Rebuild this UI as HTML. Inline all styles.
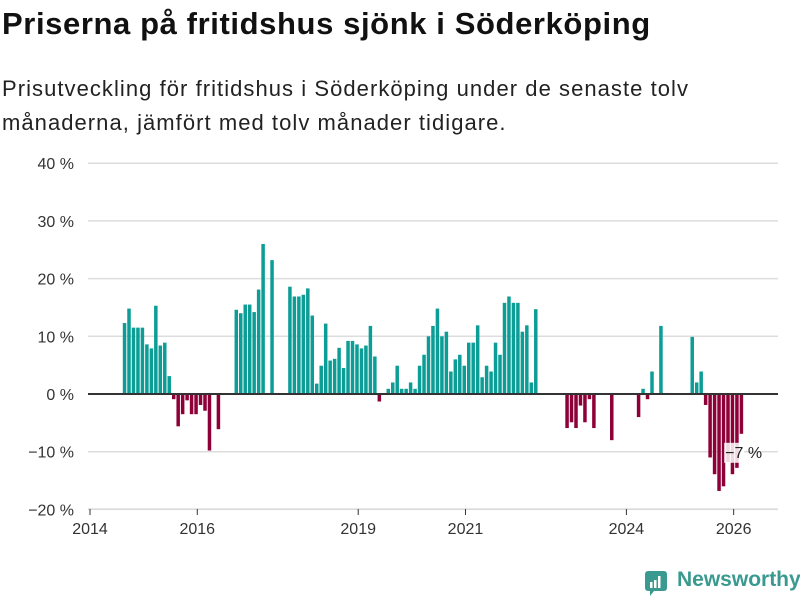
<!DOCTYPE html>
<html><head><meta charset="utf-8">
<style>
body{margin:0;background:#fff;font-family:"Liberation Sans","DejaVu Sans",sans-serif;}
#wrap{position:relative;width:800px;height:600px;overflow:hidden;}
h1{position:absolute;left:2px;top:6px;margin:0;font-size:31px;font-weight:bold;color:#111;letter-spacing:0.6px;}
#sub{position:absolute;left:2px;top:72px;margin:0;font-size:22px;line-height:34px;color:#222;letter-spacing:1.05px;}
svg{position:absolute;left:0;top:0;}
#logo{position:absolute;left:645px;top:568px;font-size:21px;font-weight:bold;color:#3a9a8f;}
</style></head><body>
<div id="wrap">
<h1>Priserna på fritidshus sjönk i Söderköping</h1>
<p id="sub">Prisutveckling för fritidshus i Söderköping under de senaste tolv<br>månaderna, jämfört med tolv månader tidigare.</p>
<svg id="chart" width="800" height="600"></svg>
<div id="logo"><svg width="24" height="26" style="position:absolute;left:0;top:3px"><rect x="0" y="0" width="22" height="20" rx="3" fill="#3a9a8f"/><path d="M5 20 L9 20 L5 25 Z" fill="#3a9a8f"/><rect x="5" y="11" width="2.5" height="6" fill="#fff"/><rect x="9" y="9" width="2.5" height="8" fill="#fff"/><rect x="13" y="5" width="2.5" height="12" fill="#fff"/></svg><span style="margin-left:32px">Newsworthy</span></div>
</div>
<script>
const values = [null,null,null,null,null,null,null,
12.3,14.8,11.5,11.5,11.5,8.6,7.9,15.3,8.4,8.9,3.1,
-0.9,-5.6,-3.5,-1.1,-3.5,-3.5,-1.9,-2.9,-9.8,null,-6.1,
null,null,null,
14.6,14.0,15.5,15.5,14.2,18.1,26.0,null,23.2,null,null,null,
18.6,16.9,16.9,17.2,18.3,13.6,1.8,4.9,12.2,5.8,6.1,8.0,4.5,9.2,9.2,8.6,7.9,8.4,11.8,6.5,-1.3,null,
0.9,2.0,4.9,0.9,0.9,2.0,0.9,4.9,6.8,10,11.8,14.8,10,10.8,3.9,6.0,6.8,4.9,8.9,8.9,11.9,2.9,4.9,3.9,8.9,6.8,15.8,16.9,15.8,15.8,10.8,11.9,2.0,14.7,
null,null,null,null,null,null,
-5.9,-4.9,-5.9,-2.0,-4.9,-0.9,-5.9,null,null,null,-8.0,
null,null,null,null,null,
-4.0,0.9,-0.9,3.9,null,11.8,null,null,null,null,null,null,
9.9,2.0,3.9,-1.9,-11,-13.9,-16.8,-16,-11.8,-13.9,-12.8,-6.9];
const yTicks = [40,30,20,10,0,-10,-20];
const yTickLabels = ["40 %","30 %","20 %","10 %","0 %","−10 %","−20 %"];
const xTickMonths = [0,24,60,84,120,144];
const xTickLabels = ["2014","2016","2019","2021","2024","2026"];
const lastLabel = "−7 %";

const NS="http://www.w3.org/2000/svg";
const svg=document.getElementById('chart');
const y0=394, pxPer=5.77, xL=90, mW=4.47;
const y=v=>y0-v*pxPer;
const x=i=>xL+i*mW;
function mk(t,a){const e=document.createElementNS(NS,t);for(const k in a)e.setAttribute(k,a[k]);svg.appendChild(e);return e;}
yTicks.forEach((v,k)=>{
  if(v!==0){const g=mk('line',{x1:88,x2:778,y1:y(v),y2:y(v),stroke:'#ddd','stroke-width':1.5});
  
  }
  const t=mk('text',{x:74,y:y(v)+6,'text-anchor':'end','font-size':16,fill:'#333','font-family':'Liberation Sans, sans-serif'});
  t.textContent=yTickLabels[k];
  
  
});
const ax=mk('line',{x1:88,x2:778,y1:509,y2:509,stroke:'#ddd','stroke-width':1.5});


xTickMonths.forEach((m,k)=>{
  const tk=mk('line',{x1:x(m),x2:x(m),y1:509,y2:515,stroke:'#333','stroke-width':1});
  
  
  const t=mk('text',{x:x(m),y:534,'text-anchor':'middle','font-size':16,fill:'#333','font-family':'Liberation Sans, sans-serif'});
  t.textContent=xTickLabels[k];
  
  
});
values.forEach((v,i)=>{
  if(v===null)return;
  const top=v>=0?y(v):y0, h=Math.abs(v)*pxPer;
  const r=mk('rect',{x:x(i)+1.5,y:top,width:3.5,height:h,fill:v>=0?'#0c9e96':'#8e0038'});
  
  
});
const zl=mk('line',{x1:88,x2:778,y1:y0,y2:y0,stroke:'#333','stroke-width':2});


const li=values.length-1;
const lb=mk('rect',{x:x(li)-14,y:y(values[li])+9,width:20,height:20,fill:'#fff',opacity:0.85});


const lt=mk('text',{x:x(li)-13,y:y(values[li])+24,'font-size':16,fill:'#222','font-family':'Liberation Sans, sans-serif'});
lt.textContent=lastLabel;


</script>
</body></html>
